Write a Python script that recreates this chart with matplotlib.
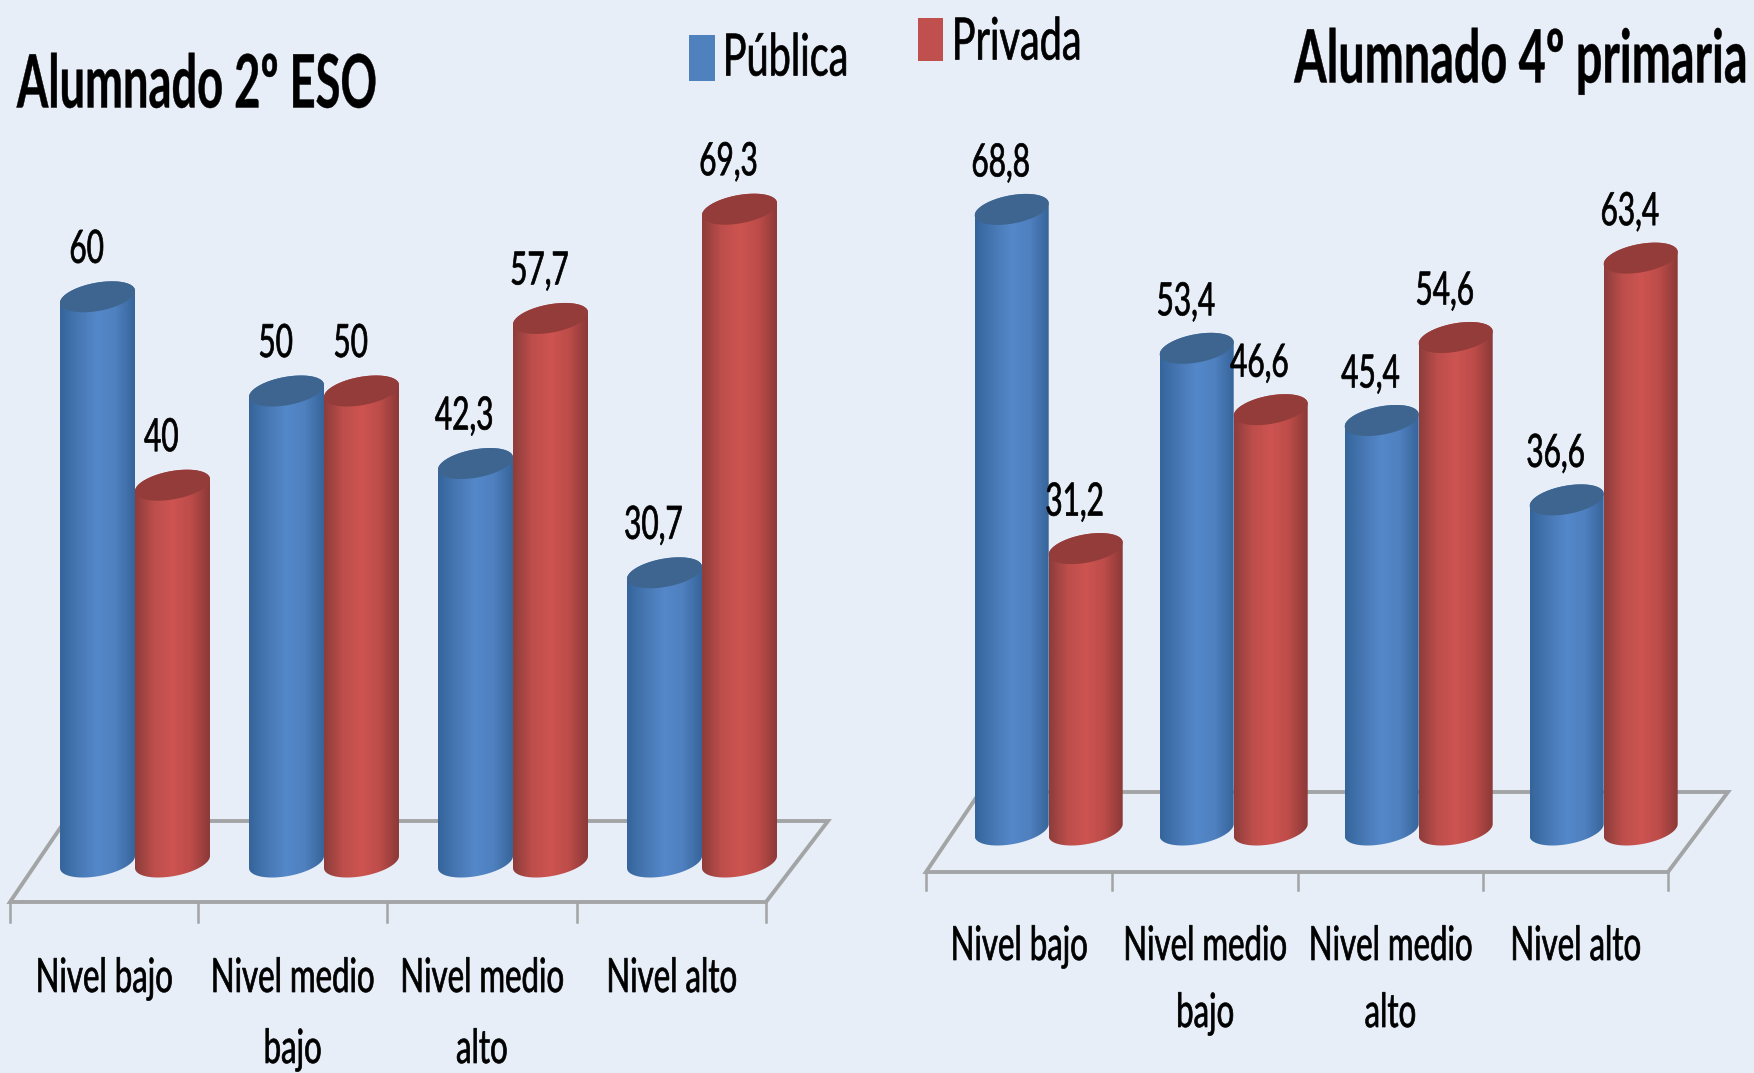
import numpy as np
import matplotlib
matplotlib.use('Agg')
import matplotlib.pyplot as plt
from matplotlib.colors import LinearSegmentedColormap
from matplotlib.patches import PathPatch, Polygon, Rectangle
from matplotlib.path import Path
from matplotlib.patheffects import AbstractPathEffect
from matplotlib.transforms import Affine2D

# Datos
categorias = ['Nivel bajo', 'Nivel medio\nbajo', 'Nivel medio\nalto', 'Nivel alto']
eso_publica = [60, 50, 42.3, 30.7]
eso_privada = [40, 50, 57.7, 69.3]
primaria_publica = [68.8, 53.4, 45.4, 36.6]
primaria_privada = [31.2, 46.6, 54.6, 63.4]

FONDO = '#e7eef8'
FUENTE = ['Lato', 'DejaVu Sans']
W, H = 1754, 1073

cmap_azul = LinearSegmentedColormap.from_list('azul', ['#36659c', '#4878b4', '#5488ca', '#4f80bf', '#37659b'])
cmap_rojo = LinearSegmentedColormap.from_list('rojo', ['#8e3d3b', '#bd4e4b', '#cd5451', '#bd4c49', '#8c3a38'])


class Estrecho(AbstractPathEffect):
    # estrecha el texto en horizontal, el original es una Calibri muy comprimida
    def __init__(self, sx, ancla='center', grosor=0.5):
        super().__init__()
        self.sx = sx
        self.ancla = ancla
        self.grosor = grosor

    def draw_path(self, renderer, gc, tpath, affine, rgbFace=None):
        ext = affine.transform_path(tpath).get_extents()
        cx = {'left': ext.x0, 'right': ext.x1, 'center': (ext.x0 + ext.x1) / 2}[self.ancla]
        aff = affine + Affine2D().translate(-cx, 0).scale(self.sx, 1).translate(cx, 0)
        gc0 = renderer.new_gc()
        gc0.copy_properties(gc)
        gc0.set_linewidth(self.grosor)
        gc0.set_foreground('black')
        renderer.draw_path(gc0, tpath, aff, rgbFace)
        gc0.restore()


fig = plt.figure(figsize=(W / 100, H / 100), dpi=100, facecolor=FONDO)

# Capa de fondo en pixeles: suelo, marcas, titulos y leyenda
fondo = fig.add_axes([0, 0, 1, 1], zorder=0)
fondo.set_xlim(0, W)
fondo.set_ylim(H, 0)
fondo.axis('off')


def etiqueta(x, y, txt, size=34, weight='normal', ha='center', sx=0.66, grosor=0.5):
    t = fondo.text(x, y, txt, fontsize=size, family=FUENTE, weight=weight, ha=ha, va='center', color='black')
    t.set_path_effects([Estrecho(sx, ha, grosor)])


def suelo(ticks, y_frente, y_fondo, y_marca, x_fondo_izq, x_fondo_der, y_texto, salto):
    fondo.add_patch(Polygon([(ticks[0], y_frente), (ticks[-1], y_frente), (x_fondo_der, y_fondo), (x_fondo_izq, y_fondo)],
                            closed=True, fill=False, edgecolor='#a3a4a5', linewidth=2.8))
    for t in ticks:
        fondo.plot([t, t], [y_frente, y_marca], color='#a3a4a5', linewidth=1.8)
    for k, cat in enumerate(categorias):
        xc = (ticks[k] + ticks[k + 1]) / 2
        for n, linea in enumerate(cat.split('\n')):
            etiqueta(xc, y_texto + n * salto, linea)


def cilindro(ax, xc, valor, ancho, b, tilt, cmap, color_tapa):
    t = np.linspace(0, 2 * np.pi, 121)
    abajo = t[60:]
    arriba = t[:61]
    xs = np.r_[xc + ancho / 2 * np.cos(abajo), xc + ancho / 2 * np.cos(arriba)]
    ys = np.r_[b * np.sin(abajo) + tilt * np.cos(abajo), valor + b * np.sin(arriba) + tilt * np.cos(arriba)]
    cuerpo = PathPatch(Path(np.c_[xs, ys]), facecolor='none', edgecolor='none')
    ax.add_patch(cuerpo)
    im = ax.imshow(np.linspace(0, 1, 64)[None, :], extent=(xc - ancho / 2, xc + ancho / 2, -b * 2, valor + b * 2),
                   cmap=cmap, aspect='auto', zorder=2, interpolation='bilinear')
    im.set_clip_path(cuerpo)
    tapa = np.c_[xc + ancho / 2 * np.cos(t), valor + b * np.sin(t) + tilt * np.cos(t)]
    ax.add_patch(Polygon(tapa, closed=True, facecolor=color_tapa, edgecolor='none', zorder=2))


def grafico(publica, privada, x0, paso, base, esc, ancho_px, dx_txt, dy_txt):
    ax = fig.add_axes([0, 0, 1, 1], zorder=1)
    ax.patch.set_visible(False)
    ax.axis('off')
    ancho = ancho_px / paso
    b = 14.3 / esc
    tilt = 6 / esc
    for i, (v1, v2) in enumerate(zip(publica, privada)):
        cilindro(ax, i - ancho / 2, v1, ancho, b, tilt, cmap_azul, '#3e658f')
        cilindro(ax, i + ancho / 2, v2, ancho, b, tilt, cmap_rojo, '#933c39')
    for i, (v1, v2) in enumerate(zip(publica, privada)):
        for xb, v in ((i - ancho / 2, v1), (i + ancho / 2, v2)):
            txt = f'{v:g}'.replace('.', ',')
            a = ax.annotate(txt, (xb, v), xytext=(dx_txt, dy_txt), textcoords='offset pixels', ha='center', va='center',
                            fontsize=33, family=FUENTE, color='black', zorder=5)
            a.set_path_effects([Estrecho(0.65)])
    ax.set_xlim((0 - x0) / paso, (W - x0) / paso)
    ax.set_ylim((base - H) / esc, base / esc)


# Grafico izquierdo: 2o ESO
suelo([10, 198, 387, 577, 766], 902, 821, 922, 65, 828, 979, 71)
grafico(eso_publica, eso_privada, 135, 189, 862, 9.42, 75, -11, 47)

# Grafico derecho: 4o primaria
suelo([926, 1112, 1298, 1483, 1668], 872, 792, 890, 980, 1728, 947, 67)
grafico(primaria_publica, primaria_privada, 1048.7, 185, 830, 9.02, 74, -11, 46)

# Titulos
etiqueta(17, 86, 'Alumnado 2º ESO', size=53, weight='bold', ha='left', sx=0.615, grosor=0.3)
etiqueta(1749, 61, 'Alumnado 4º primaria', size=53, weight='bold', ha='right', sx=0.635, grosor=0.3)

# Leyenda
fondo.add_patch(Rectangle((689, 35), 26, 46, facecolor='#4f81bd', edgecolor='none'))
etiqueta(721, 59, 'Pública', size=42, ha='left', sx=0.68)
fondo.add_patch(Rectangle((918, 18), 25, 43, facecolor='#c0504d', edgecolor='none'))
etiqueta(950, 43, 'Privada', size=42, ha='left', sx=0.68)

fig.savefig('out.png', dpi=100, facecolor=FONDO)
